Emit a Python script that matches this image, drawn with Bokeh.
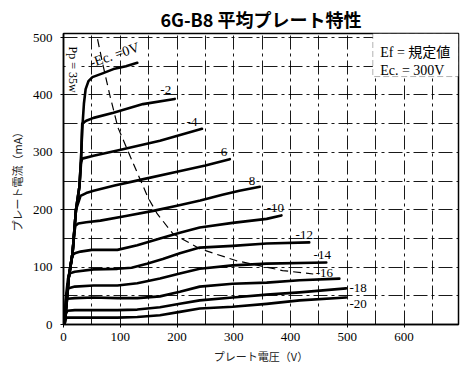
from bokeh.plotting import figure
from bokeh.models import Range1d, SingleIntervalTicker, BoxAnnotation, Label, ColumnDataSource
from bokeh.core.properties import value
from bokeh.embed import file_html
from bokeh.resources import INLINE
import math

# ---- data ----
ec_labels = ["-Ec. =0V", "-2", "-4", "-6", "-8", "-10", "-12", "-14", "-16", "-18", "-20"]

plate_v = [
    [2, 9, 16, 22, 28, 31, 33, 36, 39, 44, 51, 70, 88, 110, 130],
    [2, 9, 16, 22, 28, 31, 33, 40, 53, 88, 140, 196],
    [2, 9, 16, 22, 28, 31, 33, 53, 95, 170, 244],
    [2, 9, 16, 22, 27, 30, 40, 53, 90, 135, 200, 250, 293],
    [2, 9, 16, 19, 21, 26, 40, 65, 110, 158, 200, 241, 280, 310, 346],
    [2, 9, 14, 17, 20, 30, 50, 95, 130, 170, 205, 240, 298, 358, 384],
    [1, 5, 8, 10, 20, 53, 95, 120, 147, 175, 205, 240, 298, 358, 433],
    [1, 4, 7, 9, 20, 53, 95, 130, 170, 205, 240, 298, 358, 463],
    [1, 4, 7, 20, 53, 95, 130, 170, 205, 240, 298, 358, 416, 486],
    [1, 4, 7, 20, 53, 95, 130, 170, 205, 240, 298, 358, 416, 498],
    [1, 3, 6, 20, 53, 95, 130, 170, 205, 240, 298, 358, 416, 498],
]
plate_i = [
    [0, 80, 125, 200, 240, 290, 340, 385, 410, 424, 431, 438, 445, 450, 456],
    [0, 80, 125, 200, 240, 290, 350, 355, 360, 369, 384, 393],
    [0, 80, 125, 200, 240, 282, 289, 294, 303, 320, 341],
    [0, 80, 125, 200, 215, 224, 229, 233, 242, 252, 266, 277, 288],
    [0, 80, 125, 160, 172, 176, 178, 181, 189, 198, 207, 216, 226, 233, 240],
    [0, 80, 112, 122, 124, 127, 130, 130, 138, 150, 160, 169, 177, 184, 190],
    [0, 55, 80, 89, 92, 96, 97, 99, 106, 114, 124, 134, 137, 141, 143],
    [0, 40, 58, 63, 66, 68, 68, 72, 80, 89, 97, 103, 106, 108],
    [0, 30, 45, 46, 47, 46, 46, 49, 57, 66, 71, 73, 77, 80],
    [0, 18, 24, 25, 25, 25, 26, 30, 36, 42, 47, 52, 56, 63],
    [0, 9, 12, 12, 12, 12, 13, 16, 22, 28, 31, 36, 42, 47],
]

# Pp = 35 W dissipation curve (as drawn)
pp_v = [60, 70, 82, 96, 121, 149, 165, 193, 240, 305, 386, 440]
pp_i = [497, 450, 398, 343, 285, 221, 193, 158, 132, 111, 94, 88]

x_ticks = [0, 100, 200, 300, 400, 500, 600, 700]
y_ticks = [0, 100, 200, 300, 400, 500]

title_text = "6G-B8 平均プレート特性"
x_title = "プレート電圧（V）"
y_title = "プレート電流（mA）"

serif = "'Liberation Serif', 'Noto Sans CJK JP', serif"
cjk = "'Noto Sans CJK JP', sans-serif"

p = figure(width=463, height=366,
           x_range=Range1d(0, 696), y_range=Range1d(0, 507),
           output_backend="svg", toolbar_location=None,
           min_border_left=63, min_border_right=5,
           min_border_top=33, min_border_bottom=42)

p.title.text = title_text
p.title.align = "center"
p.title.text_font = cjk
p.title.text_font_size = "18px"
p.title.text_font_style = "bold"
p.title.text_color = "black"
p.title.standoff = 4

p.outline_line_color = "black"
p.outline_line_width = 1.5
p.background_fill_color = "white"

for g in (p.xgrid, p.ygrid):
    g.ticker = SingleIntervalTicker(interval=50)
    g.grid_line_color = "black"
    g.grid_line_alpha = 0.9
    g.grid_line_width = 1
    g.grid_line_dash = "14 4 3 4"

p.xaxis.ticker = x_ticks
p.yaxis.ticker = y_ticks
for ax in (p.xaxis, p.yaxis):
    ax.axis_line_color = "black"
    ax.axis_line_width = 1.5
    ax.major_tick_out = 3
    ax.major_tick_in = 0
    ax.minor_tick_line_color = None
    ax.major_tick_line_color = "black"
    ax.major_label_text_font = serif
    ax.major_label_text_font_size = "13px"
    ax.major_label_text_color = "black"
    ax.axis_label_text_font = cjk
    ax.axis_label_text_font_size = "11px"
    ax.axis_label_text_font_style = "normal"
    ax.axis_label_text_color = "#222222"
p.xaxis.axis_label = x_title
p.yaxis.axis_label = y_title
p.xaxis.major_label_standoff = 5
p.xaxis.axis_label_standoff = 4
p.yaxis.major_label_standoff = 8
p.yaxis.axis_label_standoff = 5

# curves
p.multi_line(xs=plate_v, ys=plate_i, line_color="black", line_width=2.6, line_join="round", line_cap="round")
p.line(pp_v, pp_i, line_color="black", line_width=1.2, line_dash="8 5")

# curve labels at curve ends (Ec=0 is labeled separately)
ends_x = [v[-1] for v in plate_v[1:]]
ends_y = [i[-1] for i in plate_i[1:]]
dx = [-9, -10, -8, -10, -6, -5, -4, -15, 12, 12]
dy = [-9, -7, -7, -6, -7, -7, -8, -6, 0, 6]
src = ColumnDataSource(dict(x=ends_x, y=ends_y, t=ec_labels[1:], dx=dx, dy=dy))
p.text(x="x", y="y", text="t", x_offset="dx", y_offset="dy", source=src,
       text_font=value(serif), text_font_size="13px", text_color="black",
       text_align="center", text_baseline="middle")

# Ec = 0V label along the top curve
p.add_layout(Label(x=plate_v[0][10] - 4, y=plate_i[0][10] + 24, text=ec_labels[0], angle=0.33,
                   text_font=serif, text_font_size="14px", text_color="black",
                   text_baseline="middle"))
# Pp = 35W vertical label
p.add_layout(Label(x=16, y=444, text="Pp = 35w", angle=-math.pi / 2,
                   text_font=serif, text_font_size="12px", text_color="black",
                   text_align="center", text_baseline="middle",
                   background_fill_color="white"))

# condition box
p.add_layout(BoxAnnotation(left=545, right=696, bottom=432, top=507,
                           fill_color="white", fill_alpha=1.0,
                           line_color="black", line_width=1, line_dash="6 3"))
p.add_layout(Label(x=558, y=474, text="Ef = 規定値", text_font=serif, text_font_size="14px",
                   text_color="black", text_baseline="middle"))
p.add_layout(Label(x=558, y=442, text="Ec. = 300V", text_font=serif, text_font_size="14px",
                   text_color="black", text_baseline="middle"))

open("out.html", "w").write(file_html(p, INLINE))
